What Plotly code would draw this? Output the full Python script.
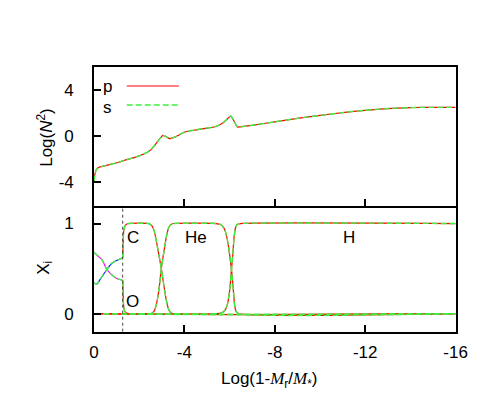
import plotly.graph_objects as go

# --- data ---
# top panel: Log(N^2) against Log(1-Mr/M*)
n2_x = [0, -0.03, -0.1, -0.2, -0.5, -0.8, -1.1, -1.4, -1.7, -2.0, -2.3, -2.5, -2.7,
        -2.9, -3.05, -3.2, -3.35, -3.6, -4.0, -4.5, -5.0, -5.35, -5.7, -5.9, -6.05,
        -6.2, -6.35, -6.6, -7.0, -8, -9, -10, -11, -12, -13, -14, -14.5, -15, -16]
n2_p = [-3.95, -3.4, -2.9, -2.7, -2.55, -2.4, -2.25, -2.05, -1.9, -1.7, -1.45, -1.2, -0.75,
        -0.25, 0.08, -0.05, -0.2, -0.05, 0.35, 0.55, 0.7, 0.82, 1.15, 1.5, 1.75,
        1.3, 0.8, 0.85, 0.95, 1.25, 1.55, 1.8, 2.05, 2.25, 2.4, 2.48, 2.5, 2.5, 2.5]
n2_s = list(n2_p)

# bottom panel: mass fractions X_i
core_x = [0, -0.13, -0.35, -0.57, -0.79, -1.01, -1.27]
core_c = [0.34, 0.33, 0.41, 0.49, 0.56, 0.59, 0.62]
core_o = [0.68, 0.65, 0.60, 0.49, 0.43, 0.39, 0.37]

c_x = [-1.27, -1.29, -1.31, -1.35, -1.42, -1.55, -2.40, -2.55, -2.65, -2.75, -2.85,
       -2.98, -3.1, -3.2, -3.3, -3.4, -3.5, -16]
c_y = [0.62, 0.78, 0.90, 0.96, 0.99, 1.0, 1.0, 0.98, 0.93, 0.82, 0.68,
       0.5, 0.3, 0.15, 0.05, 0.01, 0.0, 0.0]

o_x = [-1.27, -1.29, -1.31, -1.35, -1.42, -1.55, -16]
o_y = [0.37, 0.20, 0.09, 0.03, 0.01, 0.0, 0.0]

he_x = [0, -2.5, -2.6, -2.7, -2.8, -2.9, -2.98, -3.1, -3.2, -3.3, -3.4, -3.55,
        -5.4, -5.6, -5.75, -5.85, -5.95, -6.03, -6.1, -6.17, -6.22, -6.28, -6.4, -16]
he_y = [0.0, 0.0, 0.01, 0.05, 0.15, 0.32, 0.5, 0.7, 0.85, 0.95, 0.99, 1.0,
        1.0, 0.99, 0.95, 0.88, 0.75, 0.6, 0.45, 0.25, 0.1, 0.03, 0.0, 0.0]

h_x = [0, -5.45, -5.65, -5.8, -5.9, -6.0, -6.08, -6.14, -6.2, -6.26, -6.33, -6.5, -16]
h_y = [0.0, 0.0, 0.01, 0.04, 0.1, 0.25, 0.48, 0.65, 0.85, 0.95, 0.99, 1.0, 1.0]

core_edge = -1.27
x_ticks = [0, -4, -8, -12, -16]
x_ticktext = ["0", "-4", "-8", "-12", "-16"]
y_top_ticks = [-4, 0, 4]
y_top_ticktext = ["-4", "0", "4"]
labels = [("C", -1.72, 0.85), ("O", -1.72, 0.14), ("He", -4.5, 0.85), ("H", -11.3, 0.85)]

RED = "#ff0000"
GREEN = "#40f040"
DASH = "6px,3px"
FONT = "Liberation Sans, Arial, sans-serif"
FS = 17

# the page body has an 8px margin, so the figure is drawn 8px in from the corner
W, H, OFF = 475, 396, 8
def px(X):
    return (X - OFF) / W
def py(Y):
    return 1 - (Y - OFF) / H

fig = go.Figure()

def add(x, y, color, dash, xa, ya, width=1.2):
    fig.add_trace(go.Scatter(x=x, y=y, mode="lines", xaxis=xa, yaxis=ya,
                             line=dict(color=color, width=width, dash=dash, shape="spline", smoothing=0.6),
                             showlegend=False, hoverinfo="skip"))

# top panel
add(n2_x, n2_p, RED, "solid", "x2", "y2")
add(n2_x, n2_s, GREEN, DASH, "x2", "y2", 1.4)

# bottom panel: p first, s dashed on top
add(core_x, core_c, "#2020ff", "solid", "x", "y")
add(core_x, core_o, "#ff00ff", "solid", "x", "y")
for xs, ys in [(c_x, c_y), (o_x, o_y), (he_x, he_y), (h_x, h_y)]:
    add(xs, ys, RED, "solid", "x", "y")
for xs, ys in [(core_x, core_c), (core_x, core_o), (c_x, c_y), (o_x, o_y), (he_x, he_y), (h_x, h_y)]:
    add(xs, ys, GREEN, DASH, "x", "y", 1.4)

# right end widened a little: the plot came out ~10px narrow otherwise
xdom = [px(92), px(467)]
mid = py(205.5)
axis_common = dict(showline=True, linecolor="black", linewidth=1.5,
                   ticks="inside", ticklen=7, tickwidth=1.5, tickcolor="black",
                   showgrid=False, zeroline=False,
                   tickfont=dict(family=FONT, size=FS, color="black"))

fig.update_layout(
    width=W, height=H,
    margin=dict(l=0, r=0, t=0, b=0),
    paper_bgcolor="white", plot_bgcolor="white",
    font=dict(family=FONT, size=FS, color="black"),
    xaxis=dict(domain=xdom, anchor="y", range=[0, -16], tickvals=x_ticks, ticktext=x_ticktext,
               ticklabelstandoff=4, mirror=False, **axis_common),
    xaxis2=dict(domain=xdom, anchor="y2", matches="x", range=[0, -16], tickvals=x_ticks,
                showticklabels=False, mirror=True, **axis_common),
    yaxis=dict(domain=[py(331.7), mid], anchor="x", range=[-0.2, 1.2], tickvals=[0, 1],
               ticktext=["0", "1"], ticklabelstandoff=15, mirror=True, **axis_common),
    yaxis2=dict(domain=[mid, py(67)], anchor="x2", range=[-6, 6], tickvals=y_top_ticks,
                ticktext=y_top_ticktext, ticklabelstandoff=15, mirror=True, **axis_common),
)

# dotted line marking the core edge
fig.add_shape(type="line", xref="x", yref="y domain", x0=core_edge, x1=core_edge, y0=0, y1=1,
              line=dict(color="#444444", width=1, dash="3px,3px"))

# composition labels
for txt, lx, ly in labels:
    fig.add_annotation(text=txt, x=lx, y=ly, xref="x", yref="y", showarrow=False,
                       xanchor="center", yanchor="middle", font=dict(size=FS))

def note(text, X, Y, angle=0, size=FS):
    fig.add_annotation(text=text, x=px(X), y=py(Y), xref="paper", yref="paper",
                       showarrow=False, xanchor="center", yanchor="middle",
                       textangle=angle, font=dict(size=size))

# manual key: text left of the line sample
note("p", 106, 86)
note("s", 106, 107)
fig.add_shape(type="line", xref="paper", yref="paper", x0=px(126), x1=px(180),
              y0=py(86), y1=py(86), line=dict(color=RED, width=1.2))
fig.add_shape(type="line", xref="paper", yref="paper", x0=px(126), x1=px(180),
              y0=py(105), y1=py(105), line=dict(color=GREEN, width=1.4, dash=DASH))

# axis titles
note("Log(<i>N</i><sup>2</sup>)", 41, 137, -90)
note("X<sub>i</sub>", 41, 268, -90)
note("Log(1-<span style=\"font-family:Liberation Serif\"><i>M</i></span><sub>r</sub>/"
     "<span style=\"font-family:Liberation Serif\"><i>M</i></span><sub>*</sub>)", 274, 380)

fig.write_html("out.html")
